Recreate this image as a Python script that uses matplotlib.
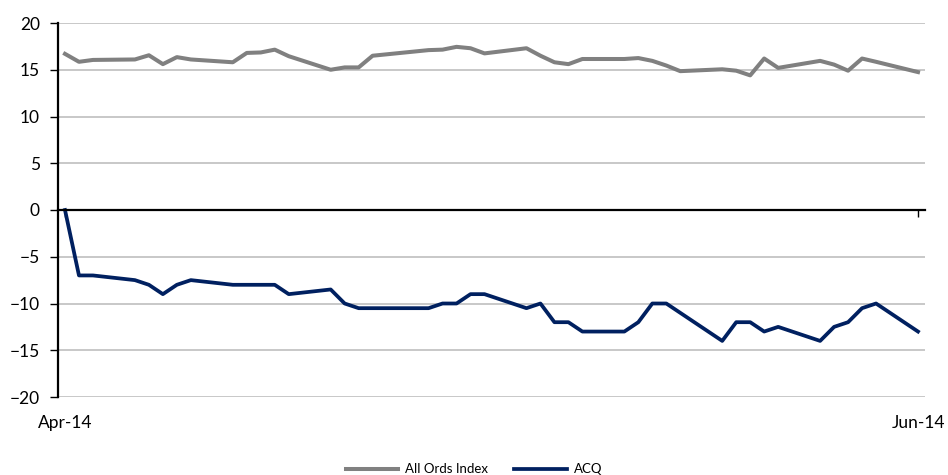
import datetime as dt
import matplotlib
matplotlib.use('Agg')
import matplotlib.pyplot as plt
import matplotlib.dates as mdates
import matplotlib.transforms as mtransforms

# trading days (weekdays) Apr 2 - Jun 2 2014
dates = [
    '2014-04-02', '2014-04-03', '2014-04-04',
    '2014-04-07', '2014-04-08', '2014-04-09', '2014-04-10', '2014-04-11',
    '2014-04-14', '2014-04-15', '2014-04-16', '2014-04-17', '2014-04-18',
    '2014-04-21', '2014-04-22', '2014-04-23', '2014-04-24', '2014-04-25',
    '2014-04-28', '2014-04-29', '2014-04-30', '2014-05-01', '2014-05-02',
    '2014-05-05', '2014-05-06', '2014-05-07', '2014-05-08', '2014-05-09',
    '2014-05-12', '2014-05-13', '2014-05-14', '2014-05-15', '2014-05-16',
    '2014-05-19', '2014-05-20', '2014-05-21', '2014-05-22', '2014-05-23',
    '2014-05-26', '2014-05-27', '2014-05-28', '2014-05-29', '2014-05-30',
    '2014-06-02',
]

all_ords = [
    16.7, 15.85, 16.05,
    16.1, 16.55, 15.6, 16.35, 16.1,
    15.8, 16.8, 16.85, 17.15, 16.45,
    15.0, 15.25, 15.25, 16.5, 16.65,
    17.1, 17.15, 17.45, 17.3, 16.75,
    17.3, 16.5, 15.8, 15.6, 16.15,
    16.15, 16.25, 15.95, 15.45, 14.85,
    15.05, 14.9, 14.4, 16.2, 15.2,
    15.95, 15.55, 14.9, 16.2, 15.85,
    14.75,
]

acq = [
    0, -7, -7,
    -7.5, -8, -9, -8, -7.5,
    -8, -8, -8, -8, -9,
    -8.5, -10, -10.5, -10.5, -10.5,
    -10.5, -10, -10, -9, -9,
    -10.5, -10, -12, -12, -13,
    -13, -12, -10, -10, -11,
    -14, -12, -12, -13, -12.5,
    -14, -12.5, -12, -10.5, -10,
    -13,
]

tick_dates = ['2014-04-02', '2014-06-02']
tick_labels = ['Apr-14', 'Jun-14']
y_ticks = [-20, -15, -10, -5, 0, 5, 10, 15, 20]

plt.rcParams['font.family'] = ['Lato', 'DejaVu Sans']

x = [dt.datetime.strptime(d, '%Y-%m-%d') for d in dates]
xt = [dt.datetime.strptime(d, '%Y-%m-%d') for d in tick_dates]

fig = plt.figure(figsize=(9.48, 4.75), dpi=100)
ax = fig.add_axes([58 / 948, 1 - 397 / 475, 867 / 948, 374 / 475])

ax.plot(x, all_ords, color='#808080', lw=2.9, label='All Ords Index', zorder=3)
ax.plot(x, acq, color='#002060', lw=2.7, label='ACQ', zorder=3)

ax.set_ylim(-20, 20)
ax.set_yticks(y_ticks)
ax.set_xlim(x[0] - dt.timedelta(hours=12), x[-1] + dt.timedelta(hours=12))
ax.grid(axis='y', color='#bfbfbf', lw=1.2, zorder=0)

ax.spines['top'].set_visible(False)
ax.spines['right'].set_visible(False)
ax.spines['left'].set_linewidth(1.6)
ax.spines['bottom'].set_linewidth(1.6)
ax.spines['bottom'].set_position(('data', 0))
ax.spines['bottom'].set_zorder(4)

ax.set_xticks(xt)
ax.tick_params(axis='x', length=5, width=1, direction='out', labelbottom=False)
ax.tick_params(axis='y', length=6, width=1, direction='out', labelsize=12.5, pad=7)

trans = mtransforms.blended_transform_factory(ax.transData, ax.transAxes)
for d, lab in zip(xt, tick_labels):
    ax.text(d, -0.07, lab, transform=trans, ha='center', va='center', fontsize=12.5)

fig.legend(loc='center', bbox_to_anchor=(0.5, 0.012), ncol=2, frameon=False,
           fontsize=9.5, handlelength=4.0, handletextpad=0.5, columnspacing=2.0)

fig.savefig('out.png', dpi=100)
